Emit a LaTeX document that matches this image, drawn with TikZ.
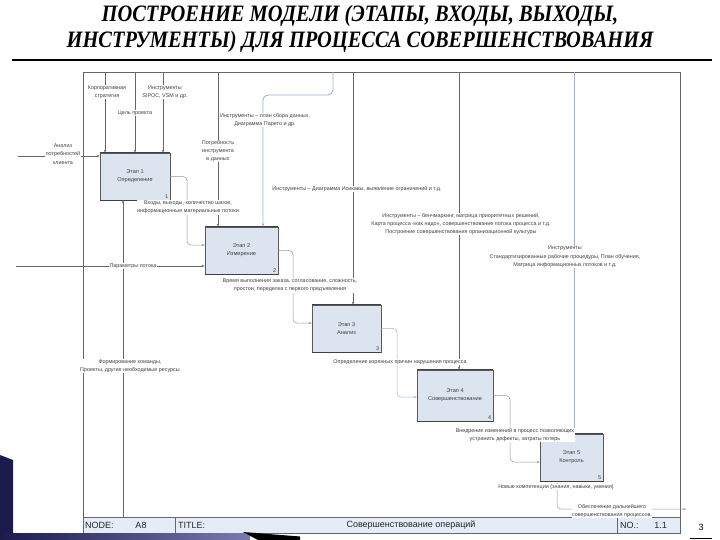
\documentclass[tikz,border=0pt]{standalone}
\usepackage{fontspec}
\setmainfont{Liberation Sans}
\newfontfamily\titlefont{Liberation Serif}
\usetikzlibrary{arrows.meta}
\definecolor{boxfill}{HTML}{DCE4F0}
\definecolor{barfill}{HTML}{E3ECF7}
\definecolor{hlblue}{HTML}{9DB3D6}
\definecolor{navy}{HTML}{1B1B4D}
\definecolor{navylight}{HTML}{7A7AAE}
\definecolor{txtgray}{HTML}{404040}
\begin{document}
\begin{tikzpicture}[x=1pt,y=-1pt,
  lbl/.style={font=\fontsize{5.4}{8.3}\selectfont, align=center, fill=white, inner sep=0.5pt, text=txtgray},
  stagebox/.style={draw=black!65, fill=boxfill, line width=0.6pt, align=center,
     font=\fontsize{5.6}{8}\selectfont, inner sep=0pt, text=txtgray},
  numlbl/.style={font=\fontsize{5.5}{6}\selectfont, anchor=south east, inner sep=1.8pt, text=txtgray},
  conn/.style={draw=black!60, line width=0.5pt, -{Stealth[length=3pt,width=2.4pt]}},
  hlconn/.style={draw=hlblue, line width=0.9pt, -{Stealth[length=3.4pt,width=2.8pt]}},
  flow/.style={draw=black!40, line width=0.5pt, rounded corners=4pt, -{Stealth[length=3pt,width=2.4pt]}},
  bartext/.style={font=\fontsize{9}{10}\selectfont, text=black!85, inner sep=0pt},
  titletext/.style={font=\titlefont\bfseries\itshape\fontsize{23.5}{24}\selectfont, inner sep=0pt}
]
\useasboundingbox (0,0) rectangle (720,540);
\fill[white] (0,0) rectangle (720,540);

% ---- title ----
\node[titletext] (title1) at (360,16)
  {\scalebox{0.87}[1]{ПОСТРОЕНИЕ МОДЕЛИ (ЭТАПЫ, ВХОДЫ, ВЫХОДЫ,}};
\node[titletext] (title2) at (360,42)
  {\scalebox{0.87}[1]{ИНСТРУМЕНТЫ) ДЛЯ ПРОЦЕССА СОВЕРШЕНСТВОВАНИЯ}};
\draw[line width=2.6pt] (12,60) -- (712,60);

% ---- frame and title bar ----
\draw[black!60, line width=0.6pt] (83,72) rectangle (680,533);
\draw[fill=barfill, draw=black!60, line width=0.6pt] (83,517) rectangle (680,533);
\draw[black!60, line width=0.6pt] (175,517) -- (175,533);
\draw[black!60, line width=0.6pt] (617,517) -- (617,533);
\node[bartext, anchor=west] (node) at (85,525.5) {NODE:};
\node[bartext] (anode) at (141,525.5) {A8};
\node[bartext, anchor=west] (ttl) at (178,525.5) {TITLE:};
\node[bartext] (ttltext) at (411,525.5) {Совершенствование операций};
\node[bartext, anchor=west] (no) at (620,525.5) {NO.:};
\node[bartext, anchor=east] (nonum) at (667,525.5) {1.1};

% ---- page number ----
\node[font=\fontsize{9}{10}\selectfont, inner sep=0pt] (page) at (701,527) {3};
\draw[line width=1pt] (690,538) -- (712,538);

% ---- decoration ----
\fill[navy] (0,455) -- (13,460) -- (13,540) -- (0,540) -- cycle;
\shade[left color=navy, right color=navylight] (0,533) rectangle (250,540);
\fill[black] (243,532) -- (300,536.5) -- (300,540) -- (258,540) -- cycle;

% ---- stage boxes ----
\node[stagebox, minimum width=70pt, minimum height=47pt] (b1) at (135,176.5) {Этап 1\\Определение};
\node[stagebox, minimum width=73pt, minimum height=47pt] (b2) at (241.5,250.5) {Этап 2\\Измерение};
\node[stagebox, minimum width=69pt, minimum height=47pt] (b3) at (346.5,328.5) {Этап 3\\Анализ};
\node[stagebox, minimum width=76pt, minimum height=51pt] (b4) at (455,395.5) {Этап 4\\Совершенствование};
\node[stagebox, minimum width=63pt, minimum height=47pt] (b5) at (571.5,457.5) {Этап 5\\Контроль};
\node[numlbl] (n1) at (b1.south east) {1};
\node[numlbl] (n2) at (b2.south east) {2};
\node[numlbl] (n3) at (b3.south east) {3};
\node[numlbl] (n4) at (b4.south east) {4};
\node[numlbl] (n5) at (b5.south east) {5};
% darker top and bottom edges of the boxes
\foreach \b in {b1,b2,b3,b4,b5}{
  \draw[black!75, line width=1pt] (\b.north west) -- (\b.north east);
  \draw[black!75, line width=1pt] (\b.south west) -- (\b.south east);
}

% ---- controls from the top ----
\coordinate (t1) at (105,72);
\coordinate (t2) at (135,72);
\coordinate (t3) at (163,72);
\coordinate (t4) at (218,72);
\coordinate (t5) at (333,72);
\coordinate (t6) at (353,72);
\coordinate (t7) at (459,72);
\coordinate (t8) at (574,72);
\draw[conn] (t1) -- (t1 |- b1.north);
\draw[conn] (t2) -- (t2 |- b1.north);
\draw[conn] (t3) -- (t3 |- b1.north);
\draw[conn] (t4) -- (t4 |- b2.north);
\draw[hlconn, rounded corners=5pt] (t5) -- (333,95) -- (263,95) -- (263,0 |- b2.north);
\draw[conn] (t6) -- (t6 |- b3.north);
\draw[conn] (t7) -- (t7 |- b4.north);
\draw[hlconn] (t8) -- (t8 |- b5.north);

% ---- inputs from the left ----
\coordinate (i1) at (18,156);
\coordinate (i2) at (16,266);
\draw[conn] (i1) -- (i1 -| b1.west);
\draw[conn] (i2) -- (i2 -| b2.west);

% ---- mechanism from the bottom ----
\coordinate (m1) at (123,517);
\draw[conn] (m1) -- (m1 |- b1.south);

% ---- flows between stages ----
\draw[flow] (b1.east) -- (187,176.5) -- (187,245) -- (b2.west |- 0,245);
\draw[flow] (b2.east) -- (293,250.5) -- (293,323) -- (b3.west |- 0,323);
\draw[flow, draw=hlblue] (b3.east) -- (397,328.5) -- (397,397) -- (b4.west |- 0,397);
\draw[flow] (b4.east) -- (510,395.5) -- (510,462) -- (b5.west |- 0,462);

% ---- output of stage 5 ----
\coordinate (o5) at (686,509);
\draw[flow] (557,0 |- b5.south) -- (557,509) -- (o5);

% ---- labels ----
\node[lbl] (lstrat) at (107,92) {Корпоративная\\стратегия};
\node[lbl] (lsipoc) at (165,92) {Инструменты\\SIPOC, VSM и др.};
\node[lbl] (lgoal) at (135,113) {Цель проекта};
\node[lbl] (lclient) at (63,154) {Анализ\\потребностей\\клиента};
\node[lbl] (lpareto) at (265,120) {Инструменты – план сбора данных,\\Диаграмма Парето и др.};
\node[lbl] (lneed) at (218,151) {Потребность\\инструмента\\в данных};
\node[lbl] (lishi) at (357,189) {Инструменты – Диаграмма Исикавы, выявление ограничений и т.д.};
\node[lbl] (linout) at (188,207.5) {Входы, выходы, количество шагов,\\информационные материальные потоки};
\node[lbl] (lbench) at (461,224) {Инструменты – бенчмаркинг, матрица приоритетных решений,\\Карта процесса «как надо», совершенствование потока процесса и т.д.\\Построение совершенствования организационной культуры};
\node[lbl] (lstd) at (565,257) {Инструменты\\Стандартизированные рабочие процедуры, План обучения,\\Матрица информационных потоков и т.д.};
\node[lbl] (lparam) at (133,266) {Параметры потока};
\node[lbl] (ltime) at (290,285.5) {Время выполнения заказа, согласование, сложность,\\простои, переделка с первого предъявления};
\node[lbl] (lroot) at (400,362) {Определение коренных причин нарушения процесса};
\node[lbl] (lteam) at (130,366) {Формирование команды,\\Проекты, другие необходимые ресурсы};
\node[lbl] (lchange) at (515,435) {Внедрение изменений в процесс позволяющих\\устранить дефекты, затраты потерь};
\node[lbl] (lcomp) at (556,487) {Новые компетенции (знания, навыки, умения)};
\node[lbl] (lfurther) at (612,511) {Обеспечение дальнейшего\\совершенствования процессов.};
\end{tikzpicture}
\end{document}
